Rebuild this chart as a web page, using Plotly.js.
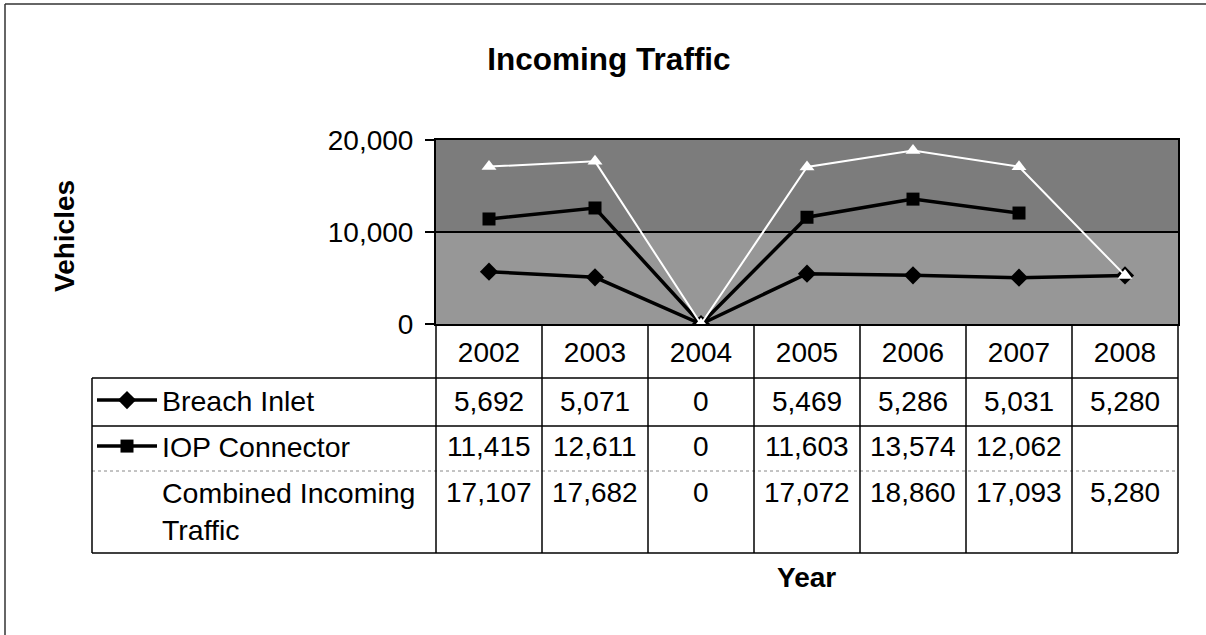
<!DOCTYPE html>
<html>
<head>
<meta charset="utf-8">
<script src="https://cdn.plot.ly/plotly-3.0.1.min.js"></script>
<style>html,body{margin:0;padding:0;background:#fff;}#chart{width:1206px;height:635px;}</style>
</head>
<body>
<div id="chart"></div>
<script>
// ---- data ----
var years = ["2002", "2003", "2004", "2005", "2006", "2007", "2008"];
var breachInlet = [5692, 5071, 0, 5469, 5286, 5031, 5280];
var iopConnector = [11415, 12611, 0, 11603, 13574, 12062, null];
var combinedIncoming = [17107, 17682, 0, 17072, 18860, 17093, 5280];
var seriesNames = ["Breach Inlet", "IOP Connector", "Combined Incoming<br>Traffic"];
var yTicks = [0, 10000, 20000];
var chartTitle = "Incoming Traffic";
var yTitle = "Vehicles";
var xTitle = "Year";

// ---- layout helpers (pixel -> paper) ----
var W = 1206, H = 635;
function px(x) { return x / W; }
function py(y) { return 1 - y / H; }

var FONT = "Liberation Sans, Arial, sans-serif";
var plotL = 436, plotR = 1178, plotT = 140, plotB = 324;
var rowLines = [378, 426, 471, 553];
var rowCenters = [401, 446, 492];
var legendLeft = 92;

var allSeries = [breachInlet, iopConnector, combinedIncoming];

var traces = [
  {x: years, y: breachInlet, name: seriesNames[0], type: "scatter", mode: "lines+markers",
   legendgroup: "a", line: {color: "#000", width: 3.5},
   marker: {symbol: "diamond", size: 14, color: "#000"}},
  {x: years, y: iopConnector, name: seriesNames[1], type: "scatter", mode: "lines+markers",
   legendgroup: "b", line: {color: "#000", width: 3.5},
   marker: {symbol: "square", size: 13, color: "#000"}},
  {x: years, y: combinedIncoming, name: seriesNames[2], type: "scatter", mode: "lines+markers",
   legendgroup: "c", line: {color: "#fff", width: 2},
   marker: {symbol: "triangle-up", size: 13, color: "#fff"}}
];

var shapes = [];
// plot background tones
shapes.push({type: "rect", xref: "x domain", yref: "y", x0: 0, x1: 1, y0: 10000, y1: 20000,
  fillcolor: "#7c7c7c", line: {width: 0}, layer: "below"});
// outer frame (top and left edges only)
shapes.push({type: "line", xref: "paper", yref: "paper", x0: px(5), x1: 1, y0: py(4), y1: py(4),
  line: {color: "#333", width: 1.5}});
shapes.push({type: "line", xref: "paper", yref: "paper", x0: px(5), x1: px(5), y0: 0, y1: py(4),
  line: {color: "#333", width: 1.5}});
// table horizontal lines
rowLines.forEach(function (yy, k) {
  shapes.push({type: "line", xref: "paper", yref: "paper", x0: px(legendLeft), x1: px(plotR),
    y0: py(yy), y1: py(yy),
    line: {color: k === 2 ? "#888" : "#000", width: k === 2 ? 1 : 1.5, dash: k === 2 ? "dot" : "solid"}});
});
// table vertical lines at category boundaries
for (var k = 0; k <= years.length; k++) {
  shapes.push({type: "line", xref: "x domain", yref: "paper", x0: k / years.length, x1: k / years.length,
    y0: py(plotB), y1: py(rowLines[rowLines.length - 1]), line: {color: "#000", width: 1.5}});
}
// legend column left line
shapes.push({type: "line", xref: "paper", yref: "paper", x0: px(legendLeft), x1: px(legendLeft),
  y0: py(rowLines[0]), y1: py(rowLines[rowLines.length - 1]), line: {color: "#000", width: 1.5}});

var annotations = [];
allSeries.forEach(function (vals, s) {
  vals.forEach(function (v, i) {
    if (v === null) return;
    annotations.push({xref: "x domain", yref: "paper", x: (i + 0.5) / years.length, y: py(rowCenters[s]),
      text: v.toLocaleString("en-US"), showarrow: false, xanchor: "center", yanchor: "middle",
      font: {family: FONT, size: 28, color: "#000"}});
  });
});
annotations.push({xref: "paper", yref: "paper", x: px(64), y: py(236), text: yTitle, textangle: -90,
  showarrow: false, xanchor: "center", yanchor: "middle",
  font: {family: FONT, size: 28, color: "#000", weight: "bold"}});
annotations.push({xref: "paper", yref: "paper", x: px(806), y: py(577), text: xTitle,
  showarrow: false, xanchor: "center", yanchor: "middle",
  font: {family: FONT, size: 28, color: "#000", weight: "bold"}});

var layout = {
  width: W, height: H,
  margin: {l: 0, r: 0, t: 0, b: 0},
  paper_bgcolor: "#fff",
  plot_bgcolor: "#979797",
  title: {text: chartTitle, x: px(609), xanchor: "center", y: py(59), yanchor: "middle",
    font: {family: FONT, size: 31.5, color: "#000", weight: "bold"}},
  xaxis: {domain: [px(plotL), px(plotR)], type: "category", categoryarray: years,
    range: [-0.5, years.length - 0.5], showgrid: false, zeroline: false,
    showline: true, mirror: true, linecolor: "#000", linewidth: 2,
    ticks: "", ticklabelstandoff: 2,
    tickfont: {family: FONT, size: 28, color: "#000"}},
  yaxis: {domain: [py(plotB), py(plotT)], range: [0, 20000], tickvals: yTicks, tickformat: ",d",
    showgrid: true, gridcolor: "#000", gridwidth: 1.5, zeroline: false,
    showline: true, mirror: true, linecolor: "#000", linewidth: 2,
    ticks: "outside", ticklen: 9, tickwidth: 1.5, tickcolor: "#000", ticklabelstandoff: 6,
    tickfont: {family: FONT, size: 28, color: "#000"}},
  showlegend: true,
  legend: {x: px(legendLeft), xanchor: "left", y: py(375), yanchor: "top",
    traceorder: "grouped", tracegroupgap: 6, itemwidth: 60, bgcolor: "rgba(0,0,0,0)",
    font: {family: FONT, size: 28.5, color: "#000"}, itemclick: false},
  shapes: shapes,
  annotations: annotations
};

Plotly.newPlot("chart", traces, layout, {staticPlot: true});
</script>
</body>
</html>
